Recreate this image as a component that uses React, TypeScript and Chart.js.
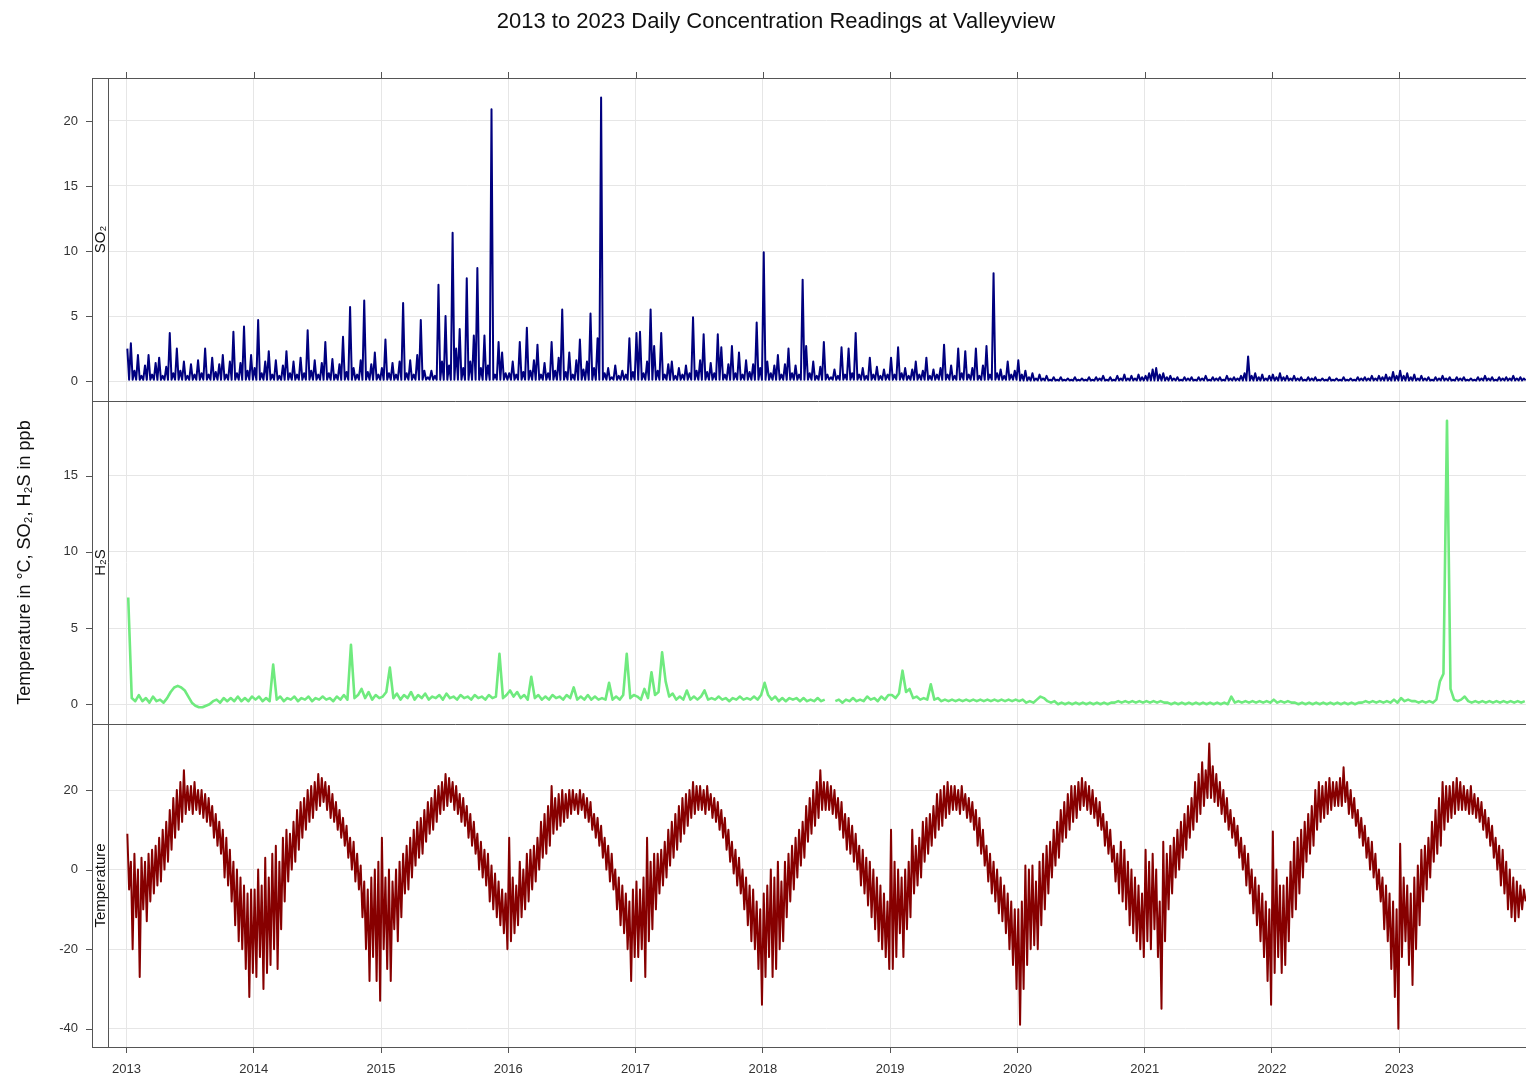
import React, { useEffect, useRef } from "react";
import { Chart, registerables } from "chart.js";

Chart.register(...registerables);

// ---------------- data ----------------
const TITLE = "2013 to 2023 Daily Concentration Readings at Valleyview";
const Y_TITLE = "Temperature in °C, SO₂, H₂S in ppb";
const PANEL_LABELS = ["SO₂", "H₂S", "Temperature"];
const YEAR_TICKS = [2013, 2014, 2015, 2016, 2017, 2018, 2019, 2020, 2021, 2022, 2023];
const START_YEAR = 2013;
const PERIODS_PER_YEAR = 36; // ~10-day periods

// SO2 (ppb): highest daily reading in each ~10-day period, 2013..2023
const so2High: number[] = [
  // 2013
  2.5, 2.9, 0.8, 2.0, 0.4, 1.2, 2.0, 0.5, 1.4, 1.8, 0.4, 1.1, 3.7, 0.6, 2.5, 0.8, 1.5, 0.4,
  1.3, 0.5, 1.6, 0.6, 2.5, 0.5, 1.8, 0.7, 1.3, 2.0, 0.5, 1.5, 3.8, 0.6, 1.4, 4.2, 0.8, 2.0,
  // 2014
  1.0, 4.7, 0.6, 1.5, 2.3, 0.5, 1.6, 0.4, 1.2, 2.3, 0.6, 1.5, 0.5, 1.8, 0.6, 3.9, 0.8, 1.6,
  0.5, 1.4, 3.0, 0.6, 1.7, 0.5, 1.3, 3.4, 0.7, 5.7, 1.0, 0.5, 1.6, 6.2, 0.7, 1.3, 2.2, 0.5,
  // 2015
  1.0, 3.2, 0.6, 1.4, 0.5, 1.5, 6.0, 0.6, 1.6, 0.5, 2.0, 4.7, 0.8, 0.3, 0.8, 0.4, 7.4, 1.5,
  5.0, 1.2, 11.4, 2.5, 4.0, 1.0, 7.9, 1.5, 3.5, 8.7, 1.0, 3.5, 1.2, 20.9, 0.5, 3.0, 2.2, 0.6,
  // 2016
  0.6, 1.5, 0.5, 3.0, 0.7, 4.1, 0.8, 1.6, 2.8, 0.5, 1.4, 0.6, 3.0, 0.8, 1.8, 5.5, 0.7, 2.2,
  0.5, 1.6, 3.2, 0.9, 1.5, 5.2, 1.0, 3.3, 21.8, 0.6, 1.0, 0.3, 1.2, 0.4, 0.8, 0.5, 3.3, 0.7,
  // 2017
  3.7, 3.8, 0.6, 1.5, 5.5, 2.7, 0.8, 3.7, 0.5, 1.3, 1.5, 0.4, 1.0, 0.5, 1.2, 0.6, 4.9, 0.8,
  1.6, 3.6, 0.7, 1.4, 0.6, 3.6, 2.6, 0.5, 1.3, 2.7, 0.6, 2.2, 0.5, 1.6, 0.7, 1.3, 4.5, 1.0,
  // 2018
  9.9, 1.5, 0.6, 1.2, 2.0, 0.5, 1.3, 2.5, 0.6, 1.2, 0.5, 7.8, 2.7, 0.6, 1.5, 0.4, 1.1, 3.0,
  0.5, 0.3, 0.9, 0.4, 2.6, 0.5, 2.5, 0.6, 3.7, 0.5, 1.0, 0.4, 1.8, 0.5, 1.1, 0.4, 0.9, 0.5,
  // 2019
  1.8, 0.5, 2.6, 0.6, 1.0, 0.4, 0.9, 1.5, 0.5, 0.8, 1.8, 0.4, 0.9, 0.5, 1.0, 2.8, 0.5, 1.2,
  0.4, 2.5, 0.6, 2.3, 0.5, 1.0, 2.5, 0.4, 1.2, 2.7, 0.5, 8.3, 0.6, 0.9, 0.4, 1.5, 0.5, 0.8,
  // 2020
  1.6, 0.5, 0.8, 0.3, 0.6, 0.2, 0.5, 0.2, 0.4, 0.1, 0.3, 0.1, 0.3, 0.1, 0.2, 0.1, 0.3, 0.1,
  0.2, 0.1, 0.3, 0.1, 0.3, 0.2, 0.4, 0.1, 0.3, 0.1, 0.4, 0.2, 0.5, 0.2, 0.4, 0.2, 0.5, 0.3,
  // 2021
  0.4, 0.6, 0.9, 1.0, 0.5, 0.6, 0.3, 0.4, 0.2, 0.3, 0.1, 0.3, 0.2, 0.3, 0.1, 0.3, 0.2, 0.4,
  0.1, 0.3, 0.2, 0.3, 0.1, 0.4, 0.2, 0.3, 0.2, 0.4, 0.6, 1.9, 0.4, 0.6, 0.3, 0.5, 0.2, 0.4,
  // 2022
  0.5, 0.3, 0.6, 0.3, 0.4, 0.2, 0.4, 0.2, 0.3, 0.1, 0.3, 0.2, 0.3, 0.1, 0.2, 0.1, 0.3, 0.1,
  0.2, 0.1, 0.3, 0.1, 0.2, 0.1, 0.3, 0.2, 0.3, 0.2, 0.4, 0.2, 0.4, 0.3, 0.5, 0.3, 0.7, 0.4,
  // 2023
  0.8, 0.4, 0.6, 0.3, 0.5, 0.2, 0.4, 0.2, 0.3, 0.1, 0.3, 0.2, 0.4, 0.2, 0.3, 0.1, 0.3, 0.2,
  0.3, 0.1, 0.2, 0.1, 0.3, 0.2, 0.4, 0.2, 0.3, 0.1, 0.3, 0.2, 0.3, 0.2, 0.4, 0.2, 0.3, 0.2,
];
// SO2 (ppb): lowest daily reading, per year (2013..2023)
const so2LowByYear: number[] = [0.1, 0.1, 0.1, 0.1, 0.1, 0.1, 0.1, 0.05, 0.05, 0.05, 0.05];

// H2S (ppb), one reading per ~10-day period, null = missing
const h2sValues: (number | null)[] = [
  // 2013
  7.0, 0.4, 0.2, 0.6, 0.2, 0.4, 0.1, 0.5, 0.2, 0.3, 0.1, 0.4, 0.8, 1.1, 1.2, 1.1, 0.9, 0.5,
  0.1, -0.1, -0.2, -0.2, -0.1, 0.0, 0.2, 0.3, 0.1, 0.4, 0.2, 0.4, 0.2, 0.5, 0.2, 0.4, 0.2, 0.5,
  // 2014
  0.3, 0.5, 0.2, 0.4, 0.2, 2.6, 0.3, 0.5, 0.2, 0.4, 0.3, 0.5, 0.2, 0.4, 0.3, 0.5, 0.2, 0.4,
  0.3, 0.5, 0.3, 0.4, 0.2, 0.5, 0.3, 0.6, 0.3, 3.9, 0.4, 0.6, 1.0, 0.4, 0.8, 0.3, 0.6, 0.4,
  // 2015
  0.5, 0.8, 2.4, 0.4, 0.7, 0.3, 0.6, 0.4, 0.8, 0.3, 0.6, 0.4, 0.7, 0.3, 0.5, 0.4, 0.6, 0.3,
  0.7, 0.4, 0.5, 0.3, 0.6, 0.4, 0.5, 0.3, 0.6, 0.4, 0.5, 0.3, 0.6, 0.4, 0.5, 3.3, 0.4, 0.6,
  // 2016
  0.9, 0.5, 0.8, 0.4, 0.6, 0.3, 1.8, 0.4, 0.6, 0.3, 0.5, 0.3, 0.6, 0.4, 0.5, 0.3, 0.6, 0.4,
  1.1, 0.3, 0.5, 0.3, 0.6, 0.3, 0.5, 0.3, 0.4, 0.3, 1.4, 0.3, 0.5, 0.3, 0.6, 3.3, 0.4, 0.6,
  // 2017
  0.5, 0.3, 1.0, 0.4, 2.1, 0.6, 0.8, 3.4, 1.5, 0.5, 0.7, 0.3, 0.5, 0.3, 0.9, 0.3, 0.5, 0.3,
  0.5, 0.9, 0.3, 0.4, 0.3, 0.5, 0.3, 0.4, 0.2, 0.4, 0.3, 0.5, 0.3, 0.4, 0.3, 0.5, 0.3, 0.6,
  // 2018
  1.4, 0.6, 0.3, 0.5, 0.2, 0.4, 0.2, 0.4, 0.3, 0.4, 0.2, 0.4, 0.2, 0.3, 0.2, 0.4, 0.2, 0.3,
  null, null, 0.2, 0.3, 0.1, 0.3, 0.2, 0.4, 0.2, 0.3, 0.2, 0.5, 0.3, 0.4, 0.2, 0.5, 0.3, 0.6,
  // 2019
  0.6, 0.4, 0.7, 2.2, 0.8, 1.0, 0.4, 0.5, 0.3, 0.4, 0.3, 1.3, 0.3, 0.4, 0.2, 0.3, 0.2, 0.3,
  0.2, 0.3, 0.2, 0.3, 0.2, 0.3, 0.2, 0.3, 0.2, 0.3, 0.2, 0.3, 0.2, 0.3, 0.2, 0.3, 0.2, 0.3,
  // 2020
  0.2, 0.3, 0.1, 0.2, 0.1, 0.3, 0.5, 0.4, 0.2, 0.1, 0.2, 0.0, 0.1, 0.0, 0.1, 0.0, 0.1, 0.0,
  0.1, 0.0, 0.1, 0.0, 0.1, 0.0, 0.1, 0.0, 0.1, 0.1, 0.2, 0.1, 0.2, 0.1, 0.2, 0.1, 0.2, 0.1,
  // 2021
  0.2, 0.1, 0.2, 0.1, 0.2, 0.1, 0.1, 0.0, 0.1, 0.0, 0.1, 0.0, 0.1, 0.0, 0.1, 0.0, 0.1, 0.0,
  0.1, 0.0, 0.1, 0.0, 0.1, 0.0, 0.5, 0.1, 0.2, 0.1, 0.2, 0.1, 0.2, 0.1, 0.2, 0.1, 0.2, 0.1,
  // 2022
  0.3, 0.1, 0.2, 0.1, 0.2, 0.1, 0.1, 0.0, 0.1, 0.0, 0.1, 0.0, 0.1, 0.0, 0.1, 0.0, 0.1, 0.0,
  0.1, 0.0, 0.1, 0.0, 0.1, 0.0, 0.1, 0.1, 0.2, 0.1, 0.2, 0.1, 0.2, 0.1, 0.2, 0.1, 0.3, 0.1,
  // 2023
  0.4, 0.2, 0.3, 0.2, 0.2, 0.1, 0.2, 0.1, 0.2, 0.1, 0.3, 1.5, 2.0, 18.6, 1.0, 0.3, 0.2, 0.3,
  0.5, 0.2, 0.1, 0.2, 0.1, 0.2, 0.1, 0.2, 0.1, 0.2, 0.1, 0.2, 0.1, 0.2, 0.1, 0.2, 0.1, 0.2,
];

// Temperature (°C): highest daily reading in each ~10-day period
const tempHigh: number[] = [
  // 2013
  9, 2, 4, 0, 3, 2, 4, 5, 6, 8, 10, 12,
  15, 18, 20, 22, 25, 21, 21, 22, 20, 20, 19, 18,
  16, 14, 12, 10, 8, 5, 2, 0, -2, -4, -6, -5,
  // 2014
  -5, 0, -4, 3, -2, 4, 6, 2, 8, 10, 9, 12,
  15, 17, 18, 20, 21, 22, 24, 23, 22, 21, 19, 17,
  15, 13, 11, 8, 7, 4, 1, -3, -5, -2, 0, 2,
  // 2015
  8, -2, 0, -3, 0, 2, 4, 6, 8, 10, 12, 13,
  15, 17, 18, 20, 21, 22, 24, 23, 22, 21, 19, 18,
  16, 14, 12, 9, 7, 5, 4, 1, -1, -3, -5, -6,
  // 2016
  8, -2, -4, 2, 0, 4, 5, 6, 8, 12, 14, 16,
  21, 18, 19, 20, 19, 20, 20, 19, 20, 19, 18, 17,
  14, 13, 11, 8, 6, 4, 0, -2, -4, -6, -8, -5,
  // 2017
  -3, -5, -2, 8, 2, 4, 4, 5, 7, 10, 12, 14,
  16, 18, 19, 20, 22, 21, 21, 20, 21, 19, 18, 17,
  15, 13, 10, 7, 5, 3, 0, -2, -4, -5, -8, -10,
  // 2018
  -6, -4, 0, -2, 2, -3, 2, 4, 6, 8, 10, 12,
  16, 18, 20, 22, 25, 22, 22, 21, 20, 18, 17, 14,
  13, 11, 9, 6, 5, 3, 2, 0, -2, -4, -6, -8,
  // 2019
  10, 2, 0, -2, 0, 2, 10, 6, 8, 12, 13, 14,
  16, 19, 20, 21, 22, 21, 21, 20, 21, 19, 18, 17,
  15, 13, 10, 6, 4, 2, 0, -2, -4, -6, -8, -10,
  // 2020
  -10, -8, 1, 0, 1, -3, 2, 4, 6, 7, 10, 12,
  15, 17, 19, 21, 21, 22, 23, 22, 21, 20, 18, 17,
  14, 12, 10, 6, 4, 7, 5, 2, 0, -2, -4, -6,
  // 2021
  5, 2, 4, 0, -8, 7, 4, 6, 8, 10, 12, 14,
  16, 18, 22, 24, 27, 25, 31.7, 26, 24, 22, 20, 18,
  15, 13, 11, 8, 6, 4, 0, -2, -4, -6, -8, -10,
  // 2022
  9.6, 0, -4, -4, -2, 2, 7, 8, 10, 12, 14, 16,
  20, 22, 21, 22, 23, 22, 22, 23, 25.7, 22, 20, 18,
  15, 13, 11, 8, 7, 4, 0, -2, -4, -6, -8, -10,
  // 2023
  6.5, -2, -4, -6, -2, 1, 5, 6, 8, 12, 15, 18,
  22, 21, 21, 22, 23, 22, 21, 20, 21, 19, 18, 17,
  15, 13, 11, 8, 6, 5, 2, 0, -2, -3, -4, -5,
];

// Temperature (°C): lowest daily reading in each ~10-day period
const tempLow: number[] = [
  // 2013
  -5, -20, -12, -27, -10, -13, -8, -6, -4, -3, 0, 2,
  5, 8, 10, 12, 14, 15, 14, 15, 14, 13, 12, 11,
  8, 6, 4, -2, -4, -8, -14, -18, -20, -25, -32, -26,
  // 2014
  -27, -22, -30, -26, -24, -20, -25, -15, -8, -3, 0, 2,
  5, 8, 10, 12, 13, 15, 16, 17, 15, 13, 12, 10,
  8, 6, 3, 0, -3, -5, -12, -20, -28, -22, -28, -33,
  // 2015
  -20, -25, -28, -15, -18, -12, -6, -5, -2, 1, 3, 4,
  7, 9, 10, 12, 14, 15, 16, 17, 15, 14, 12, 11,
  8, 6, 4, 0, -2, -4, -8, -10, -12, -14, -16, -20,
  // 2016
  -18, -16, -14, -12, -10, -8, -5, -3, 0, 3, 4, 6,
  9, 10, 11, 12, 13, 14, 15, 14, 15, 13, 12, 10,
  8, 6, 3, 0, -3, -5, -10, -14, -16, -20, -28, -22,
  // 2017
  -22, -20, -27, -18, -15, -10, -6, -4, -2, 1, 3, 5,
  7, 9, 11, 13, 14, 15, 15, 14, 15, 13, 12, 10,
  8, 5, 2, -1, -4, -6, -10, -14, -18, -20, -25, -34,
  // 2018
  -27, -22, -27, -25, -20, -18, -12, -8, -5, -2, 1, 3,
  7, 9, 11, 13, 15, 15, 15, 14, 13, 10, 8, 5,
  4, 2, 0, -4, -6, -9, -12, -15, -18, -20, -22, -25,
  // 2019
  -25, -22, -16, -22, -15, -12, -6, -4, -2, 2, 4, 6,
  8, 10, 11, 13, 14, 15, 15, 14, 15, 13, 12, 10,
  6, 4, 1, -3, -6, -8, -11, -13, -16, -20, -24, -30,
  // 2020
  -39, -30, -24, -20, -19, -20, -14, -10, -6, -2, 1, 3,
  7, 8, 10, 12, 13, 15, 16, 15, 14, 13, 11, 10,
  6, 4, 2, -3, -6, -8, -10, -14, -16, -18, -20, -22,
  // 2021
  -18, -20, -15, -22, -35, -18, -10, -6, -2, 0, 3, 5,
  8, 10, 12, 14, 16, 18, 18, 17, 16, 14, 12, 10,
  8, 6, 3, 0, -4, -6, -11, -14, -18, -22, -28, -34,
  // 2022
  -26, -22, -26, -24, -18, -12, -10, -6, -2, 2, 4, 6,
  10, 12, 13, 14, 15, 16, 16, 16, 17, 14, 13, 11,
  8, 6, 3, 0, -2, -5, -8, -15, -18, -25, -32, -40,
  // 2023
  -22, -18, -24, -29, -20, -14, -8, -5, -2, 2, 4, 6,
  10, 12, 13, 14, 15, 15, 15, 14, 14, 13, 12, 10,
  8, 6, 3, 0, -4, -6, -10, -12, -13, -12, -10, -8,
];

// ---------------- helpers ----------------
const periodStart = (i: number) => START_YEAR + i / PERIODS_PER_YEAR;
const HALF = 0.5 / PERIODS_PER_YEAR;

// one point per period
const toPoints = (values: (number | null)[]) =>
  values.map((v, i) => ({ x: periodStart(i) + HALF, y: v }));

// high and low reading of each period, in turn
const toRangePoints = (high: number[], low: (i: number) => number) =>
  high.flatMap((v, i) => [
    { x: periodStart(i) + HALF * 0.5, y: v },
    { x: periodStart(i) + HALF * 1.5, y: low(i) },
  ]);

const FONT = "'Liberation Sans', Arial, Helvetica, sans-serif";
const FRAME = "#555555";
const GRID = "#e6e6e6";
const TEXT = "#333333";

const latticePlugin = {
  id: "latticeFrame",
  afterDraw(chart: any) {
    const { ctx, chartArea, scales } = chart;
    const outerLeft = 92;
    const inner = chartArea.left;
    const top = chartArea.top;
    const bottom = chartArea.bottom;
    const right = chartArea.right;
    const panels = [scales.ySO2, scales.yH2S, scales.yTemp];

    ctx.save();
    ctx.strokeStyle = FRAME;
    ctx.lineWidth = 1;
    const line = (x1: number, y1: number, x2: number, y2: number) => {
      ctx.beginPath();
      ctx.moveTo(x1, y1);
      ctx.lineTo(x2, y2);
      ctx.stroke();
    };
    ctx.strokeRect(outerLeft + 0.5, Math.round(top) + 0.5, right - outerLeft, Math.round(bottom - top));
    line(Math.round(inner) + 0.5, top, Math.round(inner) + 0.5, bottom);
    panels.forEach((s: any, i: number) => {
      if (i === 0) return;
      const y = Math.round(s.top) + 0.5;
      line(outerLeft, y, right, y);
    });
    panels.forEach((s: any) => {
      s.ticks.forEach((t: any) => {
        const y = Math.round(s.getPixelForValue(t.value)) + 0.5;
        line(outerLeft - 6, y, outerLeft, y);
      });
    });
    scales.x.ticks.forEach((t: any) => {
      const x = Math.round(scales.x.getPixelForValue(t.value)) + 0.5;
      line(x, top - 6, x, top);
    });

    ctx.fillStyle = "#111";
    ctx.textAlign = "center";
    ctx.textBaseline = "middle";
    ctx.font = `15px ${FONT}`;
    panels.forEach((s: any, i: number) => {
      ctx.save();
      ctx.translate((outerLeft + inner) / 2 + 1, (s.top + s.bottom) / 2);
      ctx.rotate(-Math.PI / 2);
      ctx.fillText(PANEL_LABELS[i], 0, 0);
      ctx.restore();
    });

    ctx.save();
    ctx.font = `18px ${FONT}`;
    ctx.translate(25, (top + bottom) / 2);
    ctx.rotate(-Math.PI / 2);
    ctx.fillText(Y_TITLE, 0, 0);
    ctx.restore();

    ctx.font = `22px ${FONT}`;
    ctx.fillText(TITLE, 776, 22);
    ctx.restore();
  },
};

const yAxis = (min: number, max: number, step: number) => ({
  type: "linear" as const,
  position: "left" as const,
  stack: "panels",
  stackWeight: 1,
  min,
  max,
  grid: { color: GRID, lineWidth: 1, drawTicks: true, tickLength: 30, tickColor: "rgba(0,0,0,0)" },
  border: { display: false },
  ticks: {
    stepSize: step,
    includeBounds: false,
    padding: 0,
    color: TEXT,
    font: { family: FONT, size: 13 },
  },
  afterFit: (s: any) => {
    s.width = 108;
  },
});

export default function App() {
  const ref = useRef<HTMLCanvasElement | null>(null);

  useEffect(() => {
    if (!ref.current) return;
    const chart = new Chart(ref.current, {
      type: "line",
      data: {
        datasets: [
          {
            label: "SO2",
            data: toRangePoints(so2High, (i) => so2LowByYear[Math.floor(i / PERIODS_PER_YEAR)]),
            yAxisID: "ySO2",
            borderColor: "#00007f",
            borderWidth: 2,
            pointRadius: 0,
            borderJoinStyle: "round",
          },
          {
            label: "H2S",
            data: toPoints(h2sValues),
            yAxisID: "yH2S",
            borderColor: "#6fea7e",
            borderWidth: 2.6,
            pointRadius: 0,
            spanGaps: false,
            borderJoinStyle: "round",
          },
          {
            label: "Temperature",
            data: toRangePoints(tempHigh, (i) => tempLow[i]),
            yAxisID: "yTemp",
            borderColor: "#870000",
            borderWidth: 2,
            pointRadius: 0,
            borderJoinStyle: "round",
          },
        ],
      },
      options: {
        animation: false,
        responsive: false,
        devicePixelRatio: 1,
        layout: { padding: { left: 0, right: 1, top: 78, bottom: 0 } },
        plugins: {
          legend: { display: false },
          title: { display: false },
          tooltip: { enabled: false },
        },
        scales: {
          x: {
            type: "linear",
            position: "bottom",
            min: 2012.855,
            max: 2024.145,
            grid: { color: GRID, tickColor: FRAME, tickLength: 6, drawTicks: true },
            border: { display: false },
            afterBuildTicks: (s: any) => {
              s.ticks = YEAR_TICKS.map((v) => ({ value: v }));
            },
            ticks: {
              autoSkip: false,
              maxRotation: 0,
              padding: 9,
              color: TEXT,
              font: { family: FONT, size: 13 },
              callback: (v: any) => String(v),
            },
            afterFit: (s: any) => {
              s.height = 34;
            },
          },
          yTemp: yAxis(-44.6, 36.6, 20),
          yH2S: yAxis(-1.3, 19.9, 5),
          ySO2: yAxis(-1.53, 23.3, 5),
        } as any,
      },
      plugins: [latticePlugin],
    });
    return () => chart.destroy();
  }, []);

  return (
    <div
      style={{
        position: "absolute",
        left: 0,
        top: 0,
        width: 1526,
        height: 1081,
        overflow: "hidden",
        background: "#fff",
      }}
    >
      <canvas ref={ref} width={1546} height={1081} style={{ width: 1546, height: 1081, display: "block" }} />
    </div>
  );
}
